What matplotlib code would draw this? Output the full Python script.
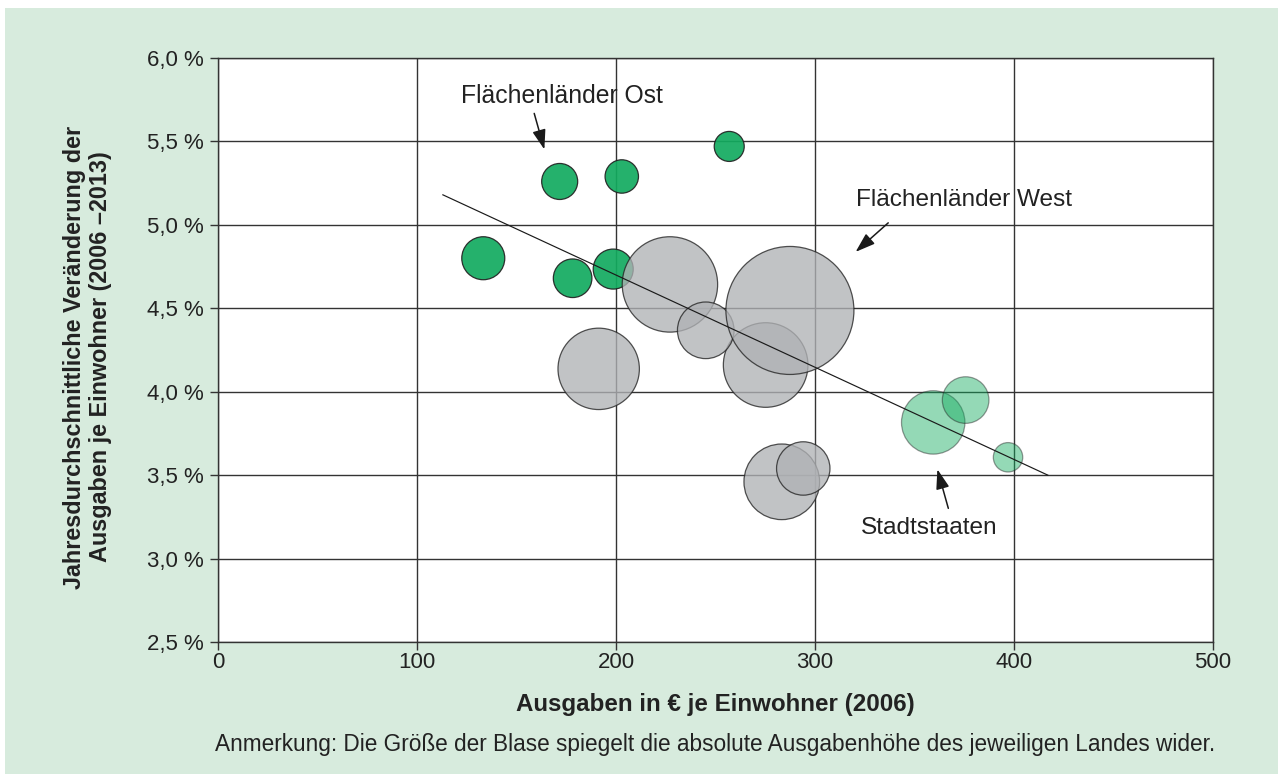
"""Blasendiagramm: Ausgaben je Einwohner (2006) gegen jaehrliche Veraenderung 2006-2013"""
import matplotlib
matplotlib.use('Agg')
import matplotlib.pyplot as plt
from matplotlib.patches import Rectangle
from matplotlib.ticker import FuncFormatter, MultipleLocator

plt.rcParams['font.family'] = ['Liberation Sans', 'DejaVu Sans']

# Flaechenlaender Ost
ost_x = [133.3, 178.2, 198.6, 171.7, 202.9, 256.9]
ost_y = [4.80, 4.68, 4.735, 5.26, 5.29, 5.47]
ost_volumen = [462, 372, 400, 324, 279, 225]

# Flaechenlaender West
west_x = [227.1, 275.2, 245.1, 287.4, 191.3, 283.3, 294.1]
west_y = [4.643, 4.16, 4.368, 4.487, 4.137, 3.46, 3.54]
west_volumen = [2275, 1789, 801, 4096, 1656, 1429, 713]

# Stadtstaaten
stadt_x = [359.4, 375.7, 397.0]
stadt_y = [3.816, 3.95, 3.607]
stadt_volumen = [1005, 543, 216]

# Trendlinie (Endpunkte)
trend_x = [113, 417]
trend_y = [5.18, 3.50]

x_ticks = [0, 100, 200, 300, 400, 500]

DPI = 100
groesse = 4 * (72 / DPI) ** 2   # volumen -> Punktflaeche

fig = plt.figure(figsize=(12.78, 7.74), dpi=DPI)
fig.patch.set_facecolor('white')
fig.patches.append(Rectangle((5 / 1278, 0), 1, 1 - 7.5 / 774,
                             transform=fig.transFigure, facecolor='#d7ebdd',
                             edgecolor='none', zorder=-5))

ax = fig.add_axes([218 / 1278, 1 - 642 / 774, 995 / 1278, 584 / 774])
ax.set_zorder(2)
ax.set_facecolor('white')

dunkel = '#333333'
ax.scatter(ost_x, ost_y, s=[v * groesse for v in ost_volumen],
           color='#12ab5f', alpha=0.92, edgecolors='#222222', linewidths=0.9, zorder=3)
ax.scatter(west_x, west_y, s=[v * groesse for v in west_volumen],
           color='#b0b2b5', alpha=0.78, edgecolors='#222222', linewidths=0.9, zorder=4)
ax.scatter(stadt_x, stadt_y, s=[v * groesse for v in stadt_volumen],
           color='#12ab5f', alpha=0.45, edgecolors='#222222', linewidths=0.9, zorder=4)
ax.plot(trend_x, trend_y, color='#1a1a1a', lw=0.85, zorder=5)

ax.set_xlim(0, 500)
ax.set_ylim(2.5, 6.0)
ax.set_xticks(x_ticks)
ax.yaxis.set_major_locator(MultipleLocator(0.5))
ax.yaxis.set_major_formatter(FuncFormatter(lambda v, p: f'{v:.1f}'.replace('.', ',') + ' %'))
ax.grid(True, color=dunkel, lw=1.0, zorder=1)
ax.set_axisbelow(True)
for sp in ax.spines.values():
    sp.set_color(dunkel)
    sp.set_linewidth(1.0)
ax.tick_params(axis='both', direction='out', length=5.5, width=1.0, color=dunkel,
               labelsize=16, labelcolor='#222222')
ax.tick_params(axis='y', pad=5)
ax.tick_params(axis='x', pad=2)

pfeil = dict(arrowstyle='-|>,head_length=0.8,head_width=0.27', color='#1a1a1a',
             lw=1.1, shrinkA=0, shrinkB=0, mutation_scale=15)
ax.annotate('', xy=(164.0, 5.452), xytext=(158.9, 5.668), arrowprops=pfeil, zorder=6)
ax.text(172.6, 5.771, 'Flächenländer Ost', fontsize=17.8, ha='center', va='center',
        color='#222222', zorder=6)
ax.annotate('', xy=(320.4, 4.838), xytext=(336.8, 5.012), arrowprops=pfeil, zorder=6)
ax.text(374.9, 5.148, 'Flächenländer West', fontsize=17.6, ha='center', va='center',
        color='#222222', zorder=6)
ax.annotate('', xy=(361.5, 3.535), xytext=(367.0, 3.301), arrowprops=pfeil, zorder=6)
ax.text(357.4, 3.181, 'Stadtstaaten', fontsize=17.6, ha='center', va='center',
        color='#222222', zorder=6)

fig.text(87.5 / 1278, 1 - 357 / 774,
         'Jahresdurchschnittliche Veränderung der\nAusgaben je Einwohner (2006 –2013)',
         rotation=90, ha='center', va='center', multialignment='center',
         fontsize=16.8, fontweight='bold', color='#222222', linespacing=1.2)
fig.text(715.5 / 1278, 1 - 705 / 774, 'Ausgaben in € je Einwohner (2006)',
         ha='center', va='center', fontsize=17.4, fontweight='bold', color='#222222')
fig.text(715.5 / 1278, 1 - 745 / 774,
         'Anmerkung: Die Größe der Blase spiegelt die absolute Ausgabenhöhe des jeweiligen Landes wider.',
         ha='center', va='center', fontsize=16.3, color='#222222')

fig.savefig('out.png', dpi=DPI)
